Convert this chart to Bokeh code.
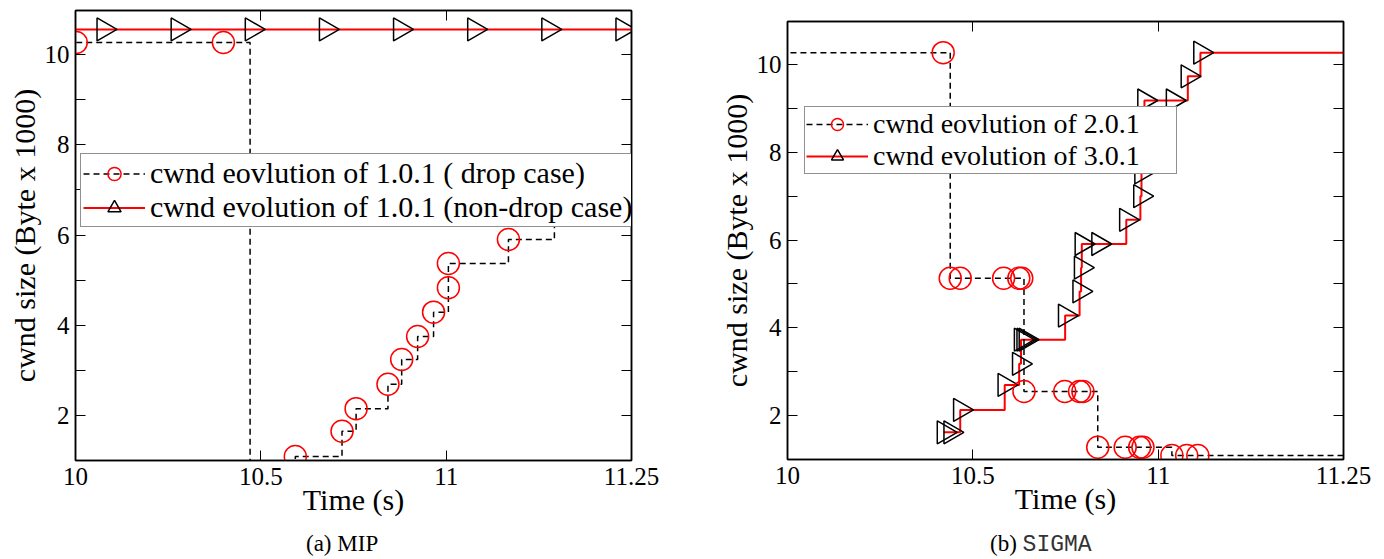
import numpy as np
from bokeh.plotting import figure
from bokeh.models import (LinearAxis, FixedTicker, Legend, LegendItem, Range1d, Div,
                          CustomLabelingPolicy)
from bokeh.layouts import row, column
from bokeh.embed import file_html
from bokeh.resources import INLINE

# ---------------- data ----------------
x_ticks = [10.0, 10.5, 11.0, 11.5]
x_tick_labels = ["10", "10.5", "11", "11.25"]
y_ticks = [2, 4, 6, 8, 10]
y_minor_ticks = [1, 3, 5, 7, 9, 11]

# (a) MIP
mip_drop_t = [10.002, 10.399, 10.471, 10.593, 10.719, 10.757, 10.843, 10.880,
              10.923, 10.966, 11.006, 11.006, 11.168, 11.292]
mip_drop_cwnd = [10.27, 10.27, 0.54, 1.09, 1.65, 2.15, 2.69, 3.24,
                 3.75, 4.29, 4.83, 5.37, 5.90, 6.45]
mip_nodrop_t = [9.876, 10.076, 10.276, 10.476, 10.676, 10.876, 11.076, 11.276, 11.476, 11.676]
mip_nodrop_cwnd = [10.56, 10.56, 10.56, 10.56, 10.56, 10.56, 10.56, 10.56, 10.56, 10.56]

# (b) SIGMA
sig201_t = [9.900, 10.420, 10.439, 10.466, 10.583, 10.624, 10.632, 10.638, 10.748, 10.788,
            10.797, 10.837, 10.911, 10.950, 10.959, 11.037, 11.077, 11.107, 11.600]
sig201_cwnd = [10.27, 10.27, 5.13, 5.13, 5.13, 5.13, 5.13, 2.55, 2.55, 2.55,
               2.55, 1.28, 1.28, 1.28, 1.28, 1.09, 1.09, 1.09, 1.09]
sig301_t = [10.422, 10.440, 10.466, 10.586, 10.625, 10.630, 10.637, 10.643, 10.749, 10.788,
            10.792, 10.794, 10.839, 10.914, 10.952, 10.955, 10.957, 10.958, 10.963, 11.040,
            11.080, 11.114, 11.600]
sig301_cwnd = [1.62, 1.62, 2.13, 2.70, 3.18, 3.73, 3.73, 3.73, 4.28, 4.83,
               5.37, 5.91, 5.91, 6.46, 7.00, 7.54, 8.08, 8.62, 9.18, 9.18,
               9.73, 10.27, 10.27]

labels_a = ["cwnd eovlution of 1.0.1 ( drop case)", "cwnd evolution of 1.0.1 (non-drop case)"]
labels_b = ["cwnd eovlution of 2.0.1", "cwnd evolution of 3.0.1"]
caption_a = "(a) MIP"
caption_b = ("(b)", "SIGMA")

SERIF = "Liberation Serif"


def style_axis(ax, minor=False):
    ax.ticker = FixedTicker(ticks=y_ticks, minor_ticks=y_minor_ticks) if minor else FixedTicker(ticks=x_ticks)
    ax.major_tick_in = 10
    ax.major_tick_out = 0
    ax.minor_tick_in = 10 if minor else 0
    ax.minor_tick_out = 0
    ax.major_tick_line_color = "black"
    ax.minor_tick_line_color = "black"
    ax.major_tick_line_width = 1
    ax.minor_tick_line_width = 1
    ax.axis_line_color = "black"
    ax.axis_line_width = 1.5
    ax.major_label_text_font = SERIF
    ax.major_label_text_font_size = "25px"
    ax.major_label_text_color = "black"
    ax.axis_label_text_font = SERIF
    ax.axis_label_text_font_size = "30px"
    ax.axis_label_text_font_style = "normal"
    ax.axis_label_text_color = "black"


def tick_only_axis(minor):
    ax = LinearAxis()
    style_axis(ax, minor=minor)
    ax.major_label_text_font_size = "0px"
    ax.major_label_standoff = 0
    ax.axis_label_standoff = 0
    ax.major_label_policy = CustomLabelingPolicy(code="return []")
    return ax


def make_fig(frame_h, left, top, right, bottom):
    p = figure(frame_width=556, frame_height=frame_h,
               x_range=Range1d(10.0, 11.5), y_range=Range1d(1.0, 10.98),
               output_backend="svg", toolbar_location=None,
               min_border_left=left, min_border_right=right,
               min_border_top=top, min_border_bottom=bottom)
    p.grid.visible = False
    p.outline_line_color = "black"
    p.outline_line_width = 1.5
    p.background_fill_color = "white"
    p.border_fill_color = "white"

    style_axis(p.xaxis[0])
    p.xaxis.major_label_overrides = dict(zip(x_ticks, x_tick_labels))
    p.xaxis.axis_label = "Time (s)"
    p.xaxis.major_label_standoff = 7
    p.xaxis.axis_label_standoff = -5

    style_axis(p.yaxis[0], minor=True)
    p.yaxis.axis_label = "cwnd size (Byte x 1000)"
    p.yaxis.major_label_standoff = 6
    p.yaxis.axis_label_standoff = 1

    p.add_layout(tick_only_axis(False), "above")
    p.add_layout(tick_only_axis(True), "right")
    return p


def make_legend(items, loc, font_size, glyph_w, glyph_h, pad, label_w):
    return Legend(items=items, location=loc, orientation="vertical",
                  label_text_font=SERIF, label_text_font_size=font_size,
                  label_text_color="black",
                  padding=pad, spacing=0, margin=0, glyph_width=glyph_w, glyph_height=glyph_h,
                  label_standoff=5, label_height=20, label_width=label_w,
                  border_line_color="#222222", border_line_width=1.5,
                  background_fill_color="white", background_fill_alpha=1.0)


# ---------------- (a) MIP ----------------
pa = make_fig(450, 75, 10, 85, 65)
ra_nd_line = pa.step(mip_nodrop_t, mip_nodrop_cwnd, mode="after", line_color="red", line_width=2)
ra_drop_line = pa.step(mip_drop_t, mip_drop_cwnd, mode="after", line_color="black",
                       line_dash="6 4", line_width=1.5)
ra_nd_pts = pa.scatter(mip_nodrop_t, mip_nodrop_cwnd, marker="triangle", size=23, angle=-np.pi / 2,
                       line_color="black", fill_color=None, line_width=1.5)
ra_drop_pts = pa.scatter(mip_drop_t, mip_drop_cwnd, marker="circle", size=22,
                         line_color="red", fill_color=None, line_width=1.5)
leg_a = make_legend([LegendItem(label=labels_a[0], renderers=[ra_drop_line, ra_drop_pts]),
                     LegendItem(label=labels_a[1], renderers=[ra_nd_line, ra_nd_pts])],
                    (5, 233), "30px", 62, 33, 2, 482)
pa.add_layout(leg_a)

# ---------------- (b) SIGMA ----------------
pb = make_fig(438, 67, 21, 40, 66)
rb_301_line = pb.step(sig301_t, sig301_cwnd, mode="after", line_color="red", line_width=2)
rb_201_line = pb.step(sig201_t, sig201_cwnd, mode="after", line_color="black",
                      line_dash="6 4", line_width=1.5)
rb_301_pts = pb.scatter(sig301_t, sig301_cwnd, marker="triangle", size=23, angle=-np.pi / 2,
                        line_color="black", fill_color=None, line_width=1.5)
rb_201_pts = pb.scatter(sig201_t, sig201_cwnd, marker="circle", size=22,
                        line_color="red", fill_color=None, line_width=1.5)
leg_b = make_legend([LegendItem(label=labels_b[0], renderers=[rb_201_line, rb_201_pts]),
                     LegendItem(label=labels_b[1], renderers=[rb_301_line, rb_301_pts])],
                    (17, 285), "28px", 62, 30, 1, 302)
pb.add_layout(leg_b)

# ---------------- captions ----------------
cap_style = {"font-family": "'Liberation Serif', serif", "font-size": "23px", "color": "black",
             "padding-top": "6px", "line-height": "normal"}
da = Div(text=caption_a, width=716, height=34, margin=0,
         styles=dict(cap_style, **{"padding-left": "306px"}))
db = Div(text=caption_b[0] + " <span style=\"font-family:'Liberation Mono',monospace;color:#333333\">"
         + caption_b[1] + "</span>",
         width=663, height=34, margin=0,
         styles=dict(cap_style, **{"padding-left": "274px"}))

# each figure wrapped in its own column so that their frames are not aligned to each other
layout = column(row(column(pa), column(pb)), row(da, db))
open("out.html", "w").write(file_html(layout, INLINE))
